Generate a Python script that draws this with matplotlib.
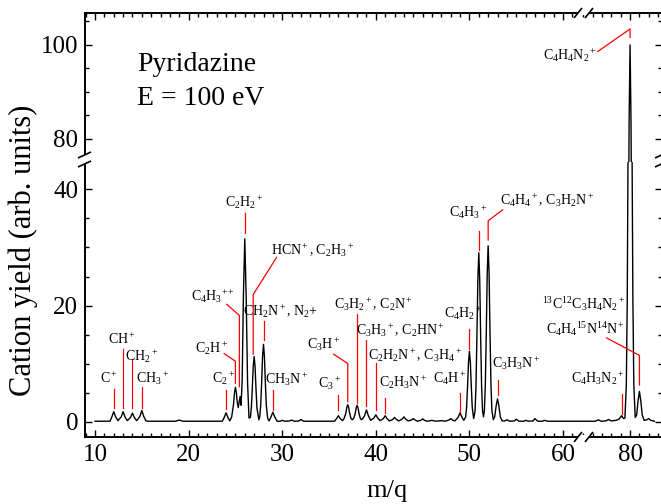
import matplotlib
matplotlib.use("Agg")
import matplotlib.pyplot as plt
from matplotlib.lines import Line2D
from matplotlib.ticker import MultipleLocator

plt.rcParams["font.family"] = ["Liberation Serif", "DejaVu Serif"]
plt.rcParams["mathtext.fontset"] = "custom"
plt.rcParams["mathtext.rm"] = "Liberation Serif"
plt.rcParams["mathtext.it"] = "Liberation Serif:italic"
plt.rcParams["mathtext.bf"] = "Liberation Serif:bold"
plt.rcParams["mathtext.default"] = "regular"

# spectrum trace, region by region
mz_light = [10.0, 11.6, 11.8, 12.0, 12.2, 12.45, 12.8, 13.0, 13.2, 13.45,
            13.8, 14.0, 14.2, 14.45, 14.8, 15.0, 15.2, 15.45, 15.7,
            18.6, 19.0, 19.4]
y_light = [0.05, 0.05, 0.8, 1.7, 0.8, 0.15, 0.8, 1.7, 0.8, 0.15,
           0.7, 1.45, 0.7, 0.15, 0.9, 1.9, 0.9, 0.1, 0.05,
           0.05, 0.25, 0.05]

mz_c2 = [23.6, 23.8, 24.0, 24.2, 24.4, 24.6, 24.8, 24.9, 25.0, 25.1,
         25.2, 25.3, 25.4, 25.5, 25.6, 25.72, 25.85, 26.0, 26.15, 26.3, 26.45,
         26.6, 26.7, 26.8, 26.9, 27.0, 27.1, 27.2, 27.3, 27.5,
         27.6, 27.7, 27.8, 27.9, 28.0, 28.1, 28.2, 28.3, 28.45,
         28.6, 28.8, 29.0, 29.2, 29.45, 29.8, 30.0, 30.3, 30.8, 31.0, 31.3,
         31.8, 32.0, 32.3]
y_c2 = [0.05, 0.7, 1.5, 0.7, 0.1, 0.8, 3.0, 4.9, 5.9, 5.0,
        3.3, 2.4, 3.4, 4.3, 2.8, 7.0, 21.4, 31.5, 21.4, 6.6, 0.6,
        0.7, 2.35, 5.6, 9.45, 11.2, 9.45, 5.6, 2.35, 0.3,
        0.8, 2.8, 6.6, 11.2, 13.3, 11.2, 6.6, 2.8, 0.5,
        0.1, 0.8, 1.6, 0.8, 0.05, 0.05, 0.2, 0.05, 0.1, 0.25, 0.05,
        0.1, 0.35, 0.05]

mz_c3 = [35.6, 35.8, 36.0, 36.2, 36.45,
         36.6, 36.8, 36.9, 37.0, 37.1, 37.2, 37.35, 37.5,
         37.65, 37.8, 37.9, 38.0, 38.1, 38.2, 38.35, 38.5,
         38.8, 39.0, 39.2, 39.45, 39.8, 40.0, 40.2, 40.45,
         40.8, 41.0, 41.2, 41.45, 41.8, 42.0, 42.2, 42.45,
         42.8, 43.0, 43.2, 43.45, 43.8, 44.0, 44.2, 44.45,
         44.8, 45.0, 45.2, 45.5, 46.0, 46.4, 47.0, 47.4]
y_c3 = [0.05, 0.5, 1.0, 0.5, 0.15,
        0.5, 1.45, 2.45, 2.9, 2.45, 1.45, 0.5, 0.3,
        0.6, 1.4, 2.35, 2.8, 2.35, 1.4, 0.5, 0.3,
        1.0, 2.0, 1.0, 0.2, 0.6, 1.15, 0.6, 0.15,
        0.5, 1.0, 0.5, 0.1, 0.35, 0.7, 0.35, 0.1,
        0.4, 0.8, 0.4, 0.1, 0.25, 0.5, 0.25, 0.05,
        0.2, 0.45, 0.2, 0.05, 0.2, 0.05, 0.15, 0.05]

mz_c4 = [47.8, 48.0, 48.2, 48.45, 48.8, 49.0, 49.2, 49.4,
         49.6, 49.7, 49.8, 49.9, 50.0, 50.1, 50.2, 50.3, 50.45,
         50.6, 50.7, 50.8, 50.9, 51.0, 51.1, 51.2, 51.3, 51.4, 51.5,
         51.6, 51.7, 51.8, 51.9, 52.0, 52.1, 52.2, 52.3, 52.4, 52.55,
         52.7, 52.85, 53.0, 53.15, 53.3, 53.5,
         53.8, 54.0, 54.3, 54.8, 55.0, 55.3, 55.8, 56.0, 56.3, 56.8,
         57.0, 57.3, 57.8, 58.0, 58.4, 62.0]
y_c4 = [0.25, 0.5, 0.25, 0.1, 0.75, 1.5, 0.75, 0.2,
        0.8, 2.5, 6.05, 10.2, 12.1, 10.2, 6.05, 2.5, 0.5,
        1.8, 6.1, 14.6, 24.4, 29.1, 24.4, 14.6, 6.1, 1.9, 0.8,
        1.9, 6.4, 15.2, 25.5, 30.3, 25.5, 15.2, 6.4, 1.9, 0.3,
        0.8, 2.65, 3.9, 2.65, 0.8, 0.1,
        0.1, 0.3, 0.05, 0.1, 0.4, 0.05, 0.05, 0.2, 0.05, 0.1,
        0.5, 0.05, 0.05, 0.2, 0.05, 0.05]

mz_parent = [75.5, 76.3, 76.6, 76.9, 77.4, 77.7, 78.0, 78.5, 78.8, 79.1, 79.3, 79.45,
             79.6, 79.7, 79.8, 79.9, 80.0, 80.1, 80.2, 80.3, 80.4, 80.55,
             80.7, 80.85, 81.0, 81.15, 81.3, 81.5, 81.8, 82.0, 82.2, 82.6]
y_parent = [0.05, 0.05, 0.3, 0.05, 0.1, 0.35, 0.1, 0.2, 0.4, 1.0, 0.5, 0.6,
            6.3, 21.1, 50.0, 84.0, 100.0, 84.0, 50.0, 21.1, 6.3, 0.7,
            1.1, 3.5, 5.2, 3.5, 1.1, 0.2, 0.3, 0.5, 0.2, 0.05]

mz = mz_light + mz_c2 + mz_c3 + mz_c4 + mz_parent
cation_yield = y_light + y_c2 + y_c3 + y_c4 + y_parent

# ion labels: text, text x, text baseline y, leader line xs, leader line ys
labels_left = [
    (r"C$^+$", 11.5, 6.7, [12, 12], [5.6, 2.3]),
    (r"CH$^+$", 12.85, 13.3, [13, 13], [12.5, 2.3]),
    (r"CH$_2$$^+$", 15.0, 10.4, [14, 14], [10.8, 2.3]),
    (r"CH$_3$$^+$", 16.2, 6.7, [15, 15], [6.0, 2.3]),
    (r"C$_2$$^+$", 23.7, 6.7, [24, 24], [5.5, 2.1]),
    (r"C$_2$H$^+$", 22.5, 11.9, [23.8, 25.0, 25.0], [11.7, 10.4, 6.6]),
    (r"C$_4$H$_3$$^{++}$", 22.6, 20.8, [24.07, 25.42, 25.42], [20.2, 18.3, 6.0]),
    (r"C$_2$H$_2$$^+$", 25.9, 37.0, [26, 26], [35.9, 32.5]),
    (r"HCN$^+$, C$_2$H$_3$$^+$", 33.3, 28.8, [29.4, 26.9, 26.9], [28.3, 21.9, 11.6]),
    (r"CH$_2$N$^+$, N$_2$+", 29.8, 18.2, [28, 28], [17.3, 14.1]),
    (r"CH$_3$N$^+$", 30.5, 6.4, [29, 29], [5.5, 2.0]),
    (r"C$_3$$^+$", 35.1, 5.8, [36, 36], [4.6, 2.0]),
    (r"C$_3$H$^+$", 34.4, 12.6, [35.5, 37.0, 37.0], [11.6, 10.0, 3.4]),
    (r"C$_3$H$_2$$^+$, C$_2$N$^+$", 39.7, 19.4, [38, 38], [18.5, 3.2]),
    (r"C$_3$H$_3$$^+$, C$_2$HN$^+$", 42.6, 15.0, [39, 39], [14.1, 2.6]),
    (r"C$_2$H$_2$N$^+$, C$_3$H$_4$$^+$", 44.2, 10.6, [40, 40], [10.1, 1.9]),
    (r"C$_2$H$_3$N$^+$", 42.9, 6.0, [41, 41], [4.1, 1.5]),
    (r"C$_4$H$^+$", 47.9, 6.7, [49, 49], [5.0, 1.7]),
    (r"C$_4$H$_2$$^+$", 49.3, 17.9, [50, 50], [15.9, 12.5]),
    (r"C$_4$H$_3$$^+$", 49.9, 35.3, [51, 51], [32.9, 29.6]),
    (r"C$_4$H$_4$$^+$, C$_3$H$_2$N$^+$", 58.3, 37.3, [53.55, 52.0, 52.0], [36.5, 34.6, 31.3]),
    (r"C$_3$H$_3$N$^+$", 55.0, 9.3, [53, 53], [7.2, 4.6]),
]
labels_right = [
    (r"C$_4$H$_3$N$_2$$^+$", 76.6, 6.7, [79.1, 79.1], [4.8, 1.3]),
    (r"$^{13}$C$^{12}$C$_3$H$_4$N$_2$$^+$", 75.0, 19.4, [], []),
    (r"C$_4$H$_4$$^{15}$N$^{14}$N$^+$", 75.2, 15.1, [77.5, 81.0, 81.0], [14.4, 11.4, 6.3]),
]
labels_top = [
    (r"C$_4$H$_4$N$_2$$^+$", 73.6, 96.8, [76.55, 80.0, 80.0], [98.6, 103.4, 101.6]),
]

W, H = 661, 504
fig = plt.figure(figsize=(W / 100, H / 100), dpi=100)


def box(x0, y0, x1, y1):
    return [x0 / W, 1 - y1 / H, (x1 - x0) / W, (y1 - y0) / H]


ax_ll = fig.add_axes(box(85, 162, 581, 437))
ax_lr = fig.add_axes(box(581, 162, 662, 437))
ax_ul = fig.add_axes(box(85, 13, 581, 162))
ax_ur = fig.add_axes(box(581, 13, 662, 162))

for ax in (ax_ll, ax_lr, ax_ul, ax_ur):
    ax.set_facecolor("none")
    ax.plot(mz, cation_yield, color="black", lw=1.0)
    for s in ax.spines.values():
        s.set_linewidth(1.4)
    ax.tick_params(which="both", direction="in", labelsize=18, width=1.0, pad=5)
    ax.tick_params(which="major", length=5)
    ax.tick_params(which="minor", length=2.8)
    ax.xaxis.set_major_locator(MultipleLocator(10))
    ax.xaxis.set_minor_locator(MultipleLocator(1))
    ax.yaxis.set_major_locator(MultipleLocator(20))
    ax.yaxis.set_minor_locator(MultipleLocator(5))

ax_ll.set_xlim(8.93, 61.92)
ax_ul.set_xlim(8.93, 61.92)
ax_lr.set_xlim(74.76, 83.41)
ax_ur.set_xlim(74.76, 83.41)
ax_ll.set_ylim(-2.67, 44.74)
ax_lr.set_ylim(-2.67, 44.74)
ax_ul.set_ylim(75.1, 106.8)
ax_ur.set_ylim(75.1, 106.8)

ax_ll.spines[["top", "right"]].set_visible(False)
ax_ll.tick_params(which="both", top=False, right=False)
ax_lr.spines[["top", "left"]].set_visible(False)
ax_lr.tick_params(which="both", top=False, left=False, labelleft=False, right=True)
ax_ul.spines[["bottom", "right"]].set_visible(False)
ax_ul.tick_params(which="both", bottom=False, labelbottom=False, right=False, top=True)
ax_ur.spines[["bottom", "left"]].set_visible(False)
ax_ur.tick_params(which="both", bottom=False, labelbottom=False, left=False,
                  labelleft=False, top=True, right=True)


def put_labels(ax, items):
    for text, tx, ty, lx, ly in items:
        ax.text(tx, ty, text, fontsize=10, ha="center", va="baseline")
        if lx:
            ax.plot(lx, ly, color="red", lw=0.9, clip_on=False)


put_labels(ax_ll, labels_left)
put_labels(ax_lr, labels_right)
put_labels(ax_ur, labels_top)

ax_ul.text(14.5, 94.5, "Pyridazine", fontsize=20, va="baseline")
ax_ul.text(14.5, 87.2, "E = 100 eV", fontsize=20, va="baseline")

fig.text(23 / W, 1 - 250 / H, "Cation yield (arb. units)", fontsize=22,
         rotation=90, ha="center", va="center")
fig.text(387 / W, 1 - 497 / H, "m/q", fontsize=19, ha="center", va="baseline")


# axis break marks (pixel coords, origin top-left)
def seg(p0, p1, color, lw):
    fig.add_artist(Line2D([p0[0] / W, p1[0] / W], [1 - p0[1] / H, 1 - p1[1] / H],
                          color=color, lw=lw, solid_capstyle="butt"))


for yb in (437, 13):
    seg((578, yb), (589, yb), "white", 3)
    seg((574, yb + 5), (582, yb - 5), "black", 1.2)
    seg((585, yb + 5), (593, yb - 5), "black", 1.2)
for xb in (85, 662):
    seg((xb, 155), (xb, 164), "white", 3)
    seg((xb - 7, 158), (xb + 6, 152), "black", 1.2)
    seg((xb - 7, 167), (xb + 6, 161), "black", 1.2)

fig.savefig("out.png", dpi=100)
